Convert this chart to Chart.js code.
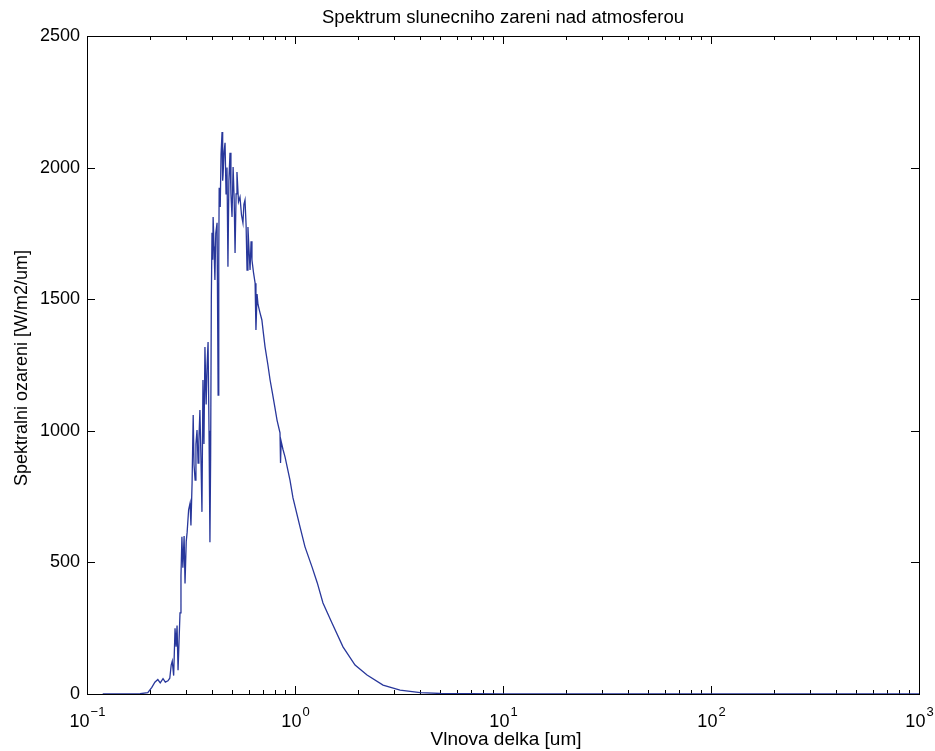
<!DOCTYPE html>
<html lang="cs">
<head>
<meta charset="UTF-8">
<title>Spektrum slunecniho zareni nad atmosferou</title>
<script src="https://cdn.jsdelivr.net/npm/chart.js"></script>
<style>
  body { margin: 0; background: #fff; }
  #wrap { width: 935px; height: 751px; }
</style>
</head>
<body>
<div id="wrap"><canvas id="c" width="935" height="751"></canvas></div>
<script>
// wavelength [um] and spectral irradiance [W/m2/um]
const wavelength = [
  0.119, 0.15, 0.18, 0.196, 0.205, 0.212, 0.219, 0.225, 0.232, 0.238,
  0.245, 0.250, 0.254, 0.257, 0.261, 0.265, 0.268, 0.271, 0.274, 0.277,
  0.280, 0.283, 0.286, 0.289, 0.293, 0.296, 0.300, 0.303, 0.308, 0.313,
  0.316, 0.320, 0.324, 0.327, 0.331, 0.334, 0.338, 0.342, 0.345, 0.349,
  0.353, 0.357, 0.361, 0.365, 0.369, 0.374, 0.378, 0.382, 0.386, 0.390,
  0.393, 0.396, 0.399, 0.402, 0.404, 0.408, 0.412, 0.416, 0.422, 0.427,
  0.430, 0.432, 0.437, 0.441, 0.446, 0.449, 0.451, 0.456, 0.461, 0.466,
  0.471, 0.476, 0.481, 0.487, 0.492, 0.498, 0.504, 0.510, 0.515, 0.521,
  0.526, 0.535, 0.544, 0.553, 0.562, 0.568, 0.575, 0.582, 0.588, 0.594,
  0.600, 0.608, 0.615, 0.621, 0.632, 0.643, 0.649, 0.657, 0.664, 0.678,
  0.693, 0.705, 0.718, 0.741, 0.759, 0.780, 0.800, 0.820, 0.847, 0.852,
  0.858, 0.875, 0.896, 0.946, 0.978, 1.057, 1.117, 1.207, 1.28, 1.363,
  1.506, 1.701, 1.944, 2.22, 2.65, 3.2, 4.0, 5.0, 7.0, 10, 30, 100, 1000
];
const irradiance = [
  0, 0, 1, 5, 25, 45, 55, 42, 58, 45,
  50, 60, 110, 125, 70, 250, 180, 260, 90, 200,
  308, 450, 597, 480, 600, 420, 580, 615, 700, 725,
  640, 800, 1060, 870, 813, 950, 1003, 877, 960, 1079,
  900, 692, 1193, 950, 1318, 1100, 1250, 1337, 1000, 577,
  900, 1500, 1752, 1650, 1812, 1700, 1573, 1750, 1790, 1136,
  1650, 1923, 1850, 2050, 2135, 1950, 1972, 2060, 2094, 1900,
  2000, 1623, 1950, 2056, 1900, 1812, 2002, 1880, 1676, 1900,
  1983, 1870, 1888, 1820, 1790, 1860, 1877, 1780, 1611, 1774,
  1700, 1611, 1720, 1649, 1600, 1561, 1383, 1520, 1480, 1450,
  1421, 1370, 1318, 1250, 1193, 1140, 1090, 1040, 992, 878,
  960, 930, 900, 813, 745, 635, 559, 483, 422, 346,
  270, 179, 110, 72, 34, 15, 5, 2, 1, 0.5, 0.05, 0, 0
];
const yTicks = [0, 500, 1000, 1500, 2000, 2500];
const xDecades = [-1, 0, 1, 2, 3];

const titleText = 'Spektrum slunecniho zareni nad atmosferou';
const xTitle = 'Vlnova delka [um]';
const yTitle = 'Spektralni ozareni [W/m2/um]';

const FONT = '"Liberation Sans", Arial, sans-serif';

const frame = {
  id: 'frame',
  beforeDatasetsDraw(chart) {
    const { ctx, chartArea: a, scales: { x, y } } = chart;
    ctx.save();
    ctx.strokeStyle = '#000';
    ctx.lineWidth = 1;
    ctx.strokeRect(a.left + 0.5, a.top + 0.5, a.right - a.left, a.bottom - a.top);
    ctx.beginPath();
    yTicks.forEach(v => {
      const py = Math.round(y.getPixelForValue(v)) + 0.5;
      ctx.moveTo(a.left, py); ctx.lineTo(a.left + 8, py);
      ctx.moveTo(a.right, py); ctx.lineTo(a.right - 8, py);
    });
    xDecades.forEach(d => {
      for (let m = 1; m <= 9; m++) {
        if (d === 3 && m > 1) break;
        const px = Math.round(x.getPixelForValue(m * Math.pow(10, d))) + 0.5;
        const len = m === 1 ? 8 : 4;
        ctx.moveTo(px, a.bottom); ctx.lineTo(px, a.bottom - len);
        ctx.moveTo(px, a.top); ctx.lineTo(px, a.top + len);
      }
    });
    ctx.stroke();
    ctx.restore();
  },
  afterDraw(chart) {
    const { ctx, chartArea: a, scales: { x } } = chart;
    const mid = (a.left + a.right) / 2;
    ctx.save();
    ctx.fillStyle = '#000';
    ctx.textBaseline = 'alphabetic';

    // x tick labels 10^n
    xDecades.forEach(d => {
      const px = x.getPixelForValue(Math.pow(10, d));
      ctx.font = '18px ' + FONT;
      const wb = ctx.measureText('10').width;
      ctx.font = '13px ' + FONT;
      const es = String(d).replace('-', '\u2212');
      const we = ctx.measureText(es).width;
      const left = px - (wb + we) / 2;
      ctx.font = '18px ' + FONT;
      ctx.textAlign = 'left';
      ctx.fillText('10', left, 727);
      ctx.font = '13px ' + FONT;
      ctx.fillText(es, left + wb + 1, 716);
    });

    ctx.textAlign = 'center';
    ctx.font = '18.5px ' + FONT;
    ctx.fillText(titleText, mid, 23);
    ctx.font = '19px ' + FONT;
    ctx.fillText(xTitle, mid + 3, 745);

    ctx.font = '18px ' + FONT;
    ctx.translate(27, 368);
    ctx.rotate(-Math.PI / 2);
    ctx.fillText(yTitle, 0, 0);
    ctx.restore();
  }
};

const points = wavelength.map((w, i) => ({ x: w, y: irradiance[i] }));

new Chart(document.getElementById('c'), {
  type: 'line',
  data: {
    datasets: [{
      data: points,
      borderColor: '#28379b',
      borderWidth: 1.3,
      pointRadius: 0,
      tension: 0,
      fill: false
    }]
  },
  options: {
    responsive: false,
    animation: false,
    layout: { padding: { left: 0, top: 36, right: 16, bottom: 57 } },
    plugins: { legend: { display: false }, tooltip: { enabled: false } },
    scales: {
      x: {
        type: 'logarithmic',
        min: 0.1,
        max: 1000,
        grid: { display: false, drawTicks: false },
        border: { display: false },
        ticks: { display: false },
        afterFit: s => { s.height = 0; }
      },
      y: {
        min: 0,
        max: 2500,
        afterBuildTicks: s => { s.ticks = yTicks.map(v => ({ value: v })); },
        grid: { display: false, drawTicks: false },
        border: { display: false },
        ticks: {
          color: '#000',
          font: { family: FONT, size: 18 },
          padding: 7,
          callback: v => String(v)
        },
        afterFit: s => { s.width = 87; }
      }
    }
  },
  plugins: [frame]
});
</script>
</body>
</html>
